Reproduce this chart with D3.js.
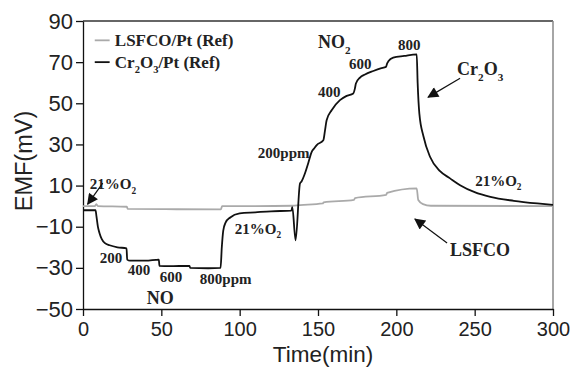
<!DOCTYPE html>
<html>
<head>
<meta charset="utf-8">
<script src="https://cdn.jsdelivr.net/npm/d3@7"></script>
<style>
  body { margin: 0; background: #fff; }
  svg { display: block; }
</style>
</head>
<body>
<div id="chart"></div>
<script>
// Cr2O3/Pt (Ref) trace, time (min) and EMF (mV)
const cr2o3Time = [0, 8, 8.6, 9.5, 10.5, 12, 14, 17, 22, 27.8, 28.2, 30, 40, 48.4, 48.8, 55, 68, 68.4, 80, 87.8,
  88.6, 89.5, 91, 94, 100, 110, 120, 133, 133.6, 135.7, 138.5, 139.5, 141.7, 143.8, 146, 147.5, 149.2, 153.4,
  154.5, 155.5, 158.7, 164, 168, 172.5, 173.5, 174.2, 176.8, 180, 185.3, 190, 193.4, 194.2, 194.9, 198, 205,
  213, 213.6, 214.7, 217.3, 221.5, 227.9, 234.3, 240.7, 250, 260, 275, 290, 300];
const cr2o3Emf = [-2, -2, -5, -10, -13, -16, -18, -19, -20, -20.5, -26, -26.5, -26.5, -26, -29, -29.2, -29, -30, -30.2, -30,
  -20, -12, -8, -5.5, -3.5, -3, -2.5, -2.2, -0.5, -16.6, 11, 12, 16, 21, 26.4, 28, 29.7, 32,
  37, 41.8, 46.6, 51.5, 53.5, 54.8, 57, 59.6, 62.5, 64, 65.7, 67, 67.7, 69.5, 70.4, 72.2, 73,
  73.8, 60, 45, 34, 24, 17, 13.5, 10.2, 6.8, 4.5, 2.6, 1.3, 0.6];

// LSFCO/Pt (Ref) trace
const lsfcoTime = [0, 7.5, 8.5, 9.5, 28, 28.5, 60, 88, 88.8, 110, 134, 135, 153, 153.6, 173, 173.6, 193.5, 194.1,
  213, 214, 217, 222, 300];
const lsfcoEmf = [0, 0, 1, 0, -0.3, -1.3, -1.5, -1.6, 0, 0, 0.2, 0.3, 1.3, 1.8, 3, 3.9, 5.5, 6.4,
  8.6, 3, 1, 0.2, 0];

const xTicks = [0, 50, 100, 150, 200, 250, 300];
const yTicks = [-50, -30, -10, 10, 30, 50, 70, 90];

const width = 571, height = 371;
const margin = { top: 21, right: 18, bottom: 62, left: 83 };

const svg = d3.select('#chart')
  .append('svg')
  .attr('width', width)
  .attr('height', height);

const x = d3.scaleLinear().domain([0, 300]).range([margin.left, width - margin.right]);
const y = d3.scaleLinear().domain([-50, 90]).range([height - margin.bottom, margin.top]);

// frame: dark top, grey right
svg.append('line')
  .attr('x1', x(0)).attr('x2', x(300))
  .attr('y1', y(90)).attr('y2', y(90))
  .attr('stroke', '#333').attr('stroke-width', 1.5);
svg.append('line')
  .attr('x1', x(300)).attr('x2', x(300))
  .attr('y1', y(90)).attr('y2', y(-50))
  .attr('stroke', '#888').attr('stroke-width', 1.5);

const sans = '"Liberation Sans", Arial, sans-serif';

const xAxis = svg.append('g')
  .attr('transform', `translate(0,${y(-50)})`)
  .call(d3.axisBottom(x).tickValues(xTicks).tickSize(7).tickPadding(6).tickSizeOuter(0));
const yAxis = svg.append('g')
  .attr('transform', `translate(${x(0)},0)`)
  .call(d3.axisLeft(y).tickValues(yTicks).tickSize(7).tickPadding(3).tickSizeOuter(0));

[xAxis, yAxis].forEach(a => {
  a.selectAll('path, line').attr('stroke', '#111').attr('stroke-width', 1.3);
  a.selectAll('text')
    .attr('fill', '#222')
    .style('font-family', sans);
});
xAxis.selectAll('text').style('font-size', '20px');
yAxis.selectAll('text').style('font-size', '22px');

svg.append('text')
  .attr('x', (x(0) + x(300)) / 2 + 5)
  .attr('y', 362)
  .attr('text-anchor', 'middle')
  .style('font-family', sans)
  .style('font-size', '22.5px')
  .attr('fill', '#222')
  .text('Time(min)');

svg.append('text')
  .attr('transform', 'translate(32,161) rotate(-90)')
  .attr('text-anchor', 'middle')
  .style('font-family', sans)
  .style('font-size', '23.5px')
  .attr('fill', '#222')
  .text('EMF(mV)');

const line = d3.line()
  .x(d => x(d[0]))
  .y(d => y(d[1]))
  .curve(d3.curveMonotoneX);

svg.append('path')
  .datum(d3.zip(lsfcoTime, lsfcoEmf))
  .attr('d', line)
  .attr('fill', 'none')
  .attr('stroke', '#aaa')
  .attr('stroke-width', 1.8);

svg.append('path')
  .datum(d3.zip(cr2o3Time, cr2o3Emf))
  .attr('d', line)
  .attr('fill', 'none')
  .attr('stroke', '#111')
  .attr('stroke-width', 1.8);

// annotations, placed in data coordinates
const serif = '"Liberation Serif", "Times New Roman", serif';

function label(t, v, parts, size) {
  const txt = svg.append('text')
    .attr('x', x(t)).attr('y', y(v))
    .style('font-family', serif)
    .style('font-weight', 'bold')
    .style('font-size', size + 'px')
    .attr('fill', '#222');
  let lowered = false;
  parts.forEach(p => {
    if (typeof p === 'string') {
      const s = txt.append('tspan').text(p);
      if (lowered) s.attr('dy', -size * 0.3);
      lowered = false;
    } else {
      txt.append('tspan')
        .attr('dy', size * 0.3)
        .style('font-size', (size * 0.62) + 'px')
        .text(p.sub);
      lowered = true;
    }
  });
}

svg.append('defs').append('marker')
  .attr('id', 'head')
  .attr('viewBox', '0 0 10 10')
  .attr('refX', 9).attr('refY', 5)
  .attr('markerWidth', 14).attr('markerHeight', 11)
  .attr('markerUnits', 'userSpaceOnUse')
  .attr('orient', 'auto')
  .append('path')
  .attr('d', 'M0,0L10,5L0,10z')
  .attr('fill', '#111');

function arrow(t1, v1, t2, v2) {
  svg.append('line')
    .attr('x1', x(t1)).attr('y1', y(v1))
    .attr('x2', x(t2)).attr('y2', y(v2))
    .attr('stroke', '#111').attr('stroke-width', 1.2)
    .attr('marker-end', 'url(#head)');
}

// legend
svg.append('line')
  .attr('x1', x(7.5)).attr('x2', x(17))
  .attr('y1', y(80.6)).attr('y2', y(80.6))
  .attr('stroke', '#aaa').attr('stroke-width', 1.8);
svg.append('line')
  .attr('x1', x(7.5)).attr('x2', x(17))
  .attr('y1', y(70)).attr('y2', y(70))
  .attr('stroke', '#111').attr('stroke-width', 1.8);
label(20.3, 77.7, ['LSFCO/Pt (Ref)'], 17);
label(20.3, 67, ['Cr', { sub: '2' }, 'O', { sub: '3' }, '/Pt (Ref)'], 17);

label(4.3, 8.3, ['21%O', { sub: '2' }], 15);
arrow(12.6, 11.2, 3, 1.0);
label(10.7, -27.6, ['200'], 15);
label(28.6, -33.4, ['400'], 15);
label(49, -36.8, ['600'], 15);
label(74.6, -37.8, ['800ppm'], 15);
label(40.7, -47.5, ['NO'], 18);
label(96.9, -13.5, ['21%O', { sub: '2' }], 15);
label(111.6, 23.4, ['200ppm'], 15);
label(150, 76.7, ['NO', { sub: '2' }], 18);
label(150, 53, ['400'], 15);
label(169.8, 66.6, ['600'], 15);
label(201.1, 75.8, ['800'], 15);
label(238.8, 63.6, ['Cr', { sub: '2' }, 'O', { sub: '3' }], 18);
arrow(240.7, 62.2, 220.3, 53);
label(250.3, 9.8, ['21%O', { sub: '2' }], 15);
label(234.3, -24.2, ['LSFCO'], 18);
arrow(232.4, -17.9, 211.9, -6.3);
</script>
</body>
</html>
